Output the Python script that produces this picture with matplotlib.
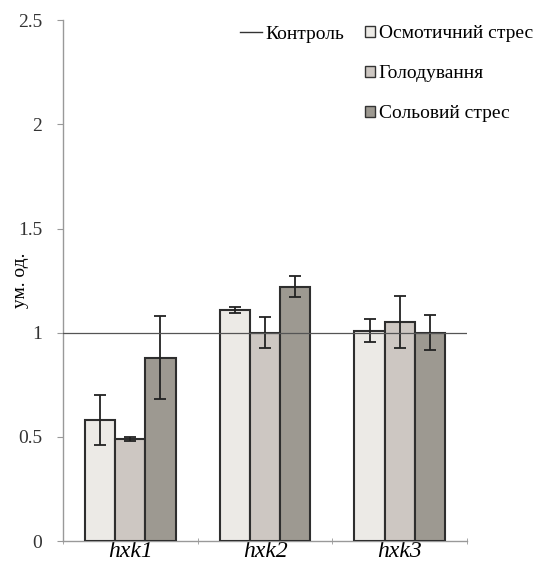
import numpy as np
import matplotlib
matplotlib.use("Agg")
import matplotlib.pyplot as plt
from matplotlib.lines import Line2D
from matplotlib.patches import Patch

# Data
genes = ["hxk1", "hxk2", "hxk3"]
series_names = ["Осмотичний стрес", "Голодування", "Сольовий стрес"]
osmotic = [0.58, 1.11, 1.01]
starvation = [0.49, 1.00, 1.05]
salt = [0.88, 1.22, 1.00]
osmotic_err = [0.12, 0.015, 0.055]
starvation_err = [0.01, 0.075, 0.125]
salt_err = [0.20, 0.05, 0.085]
control_level = 1.0
yticks = [0, 0.5, 1, 1.5, 2, 2.5]
ytick_labels = ["0", "0.5", "1", "1.5", "2", "2.5"]

colors = ["#eceae6", "#cdc7c2", "#9d9991"]

plt.rcParams['font.family'] = ['Liberation Serif', 'DejaVu Serif']

fig = plt.figure(figsize=(5.47, 5.63), dpi=100)
ax = fig.add_axes([0.115, 0.039, 0.739, 0.925])

x = np.arange(len(genes))
width = 0.224
values = [osmotic, starvation, salt]
errors = [osmotic_err, starvation_err, salt_err]
for i in range(3):
    ax.bar(x + (i - 1) * width, values[i], width, color=colors[i],
           edgecolor="#2e2e2e", linewidth=1.5, zorder=3)
    ax.errorbar(x + (i - 1) * width, values[i], yerr=errors[i], fmt="none",
                ecolor="#222222", elinewidth=1.3, capsize=4, capthick=1.3,
                zorder=4)

ax.axhline(control_level, color="#555555", linewidth=0.9, zorder=5)

ax.set_xlim(-0.5, 2.5)
ax.set_ylim(0, 2.5)
ax.set_yticks(yticks)
ax.set_yticklabels(ytick_labels, fontsize=14)
ax.set_xticks(x)
ax.set_xticklabels(genes, fontsize=17, style="italic")
ax.set_xticks([-0.5, 0.5, 1.5, 2.5], minor=True)
ax.tick_params(axis="x", which="major", length=0, pad=0)
ax.tick_params(axis="x", which="minor", length=4, color="#999999", direction="inout")
ax.tick_params(axis="y", length=4, color="#999999", pad=11, labelcolor="#333333")
ax.set_ylabel("ум. од.", fontsize=14)
ax.yaxis.set_label_coords(-0.085, 0.5)

for side in ["top", "right"]:
    ax.spines[side].set_visible(False)
for side in ["left", "bottom"]:
    ax.spines[side].set_color("#999999")
    ax.spines[side].set_linewidth(1.0)

# control line legend on its own, with a longer handle
ctrl_leg = ax.legend([Line2D([], [], color="#333333", linewidth=1.0)], ["Контроль"],
                     loc="upper left", bbox_to_anchor=(0.42, 1.005), frameon=False,
                     fontsize=14, handlelength=1.1, handletextpad=0.2,
                     borderaxespad=0)
ax.add_artist(ctrl_leg)

handles = [Patch(facecolor=colors[i], edgecolor="#333333", linewidth=1.0)
           for i in range(3)]
ax.legend(handles, series_names, loc="upper left", bbox_to_anchor=(0.728, 1.005),
          frameon=False, fontsize=14, labelspacing=1.18, handlelength=0.5,
          handleheight=0.5, handletextpad=0.2, borderaxespad=0)

fig.savefig("out.png", dpi=100)
